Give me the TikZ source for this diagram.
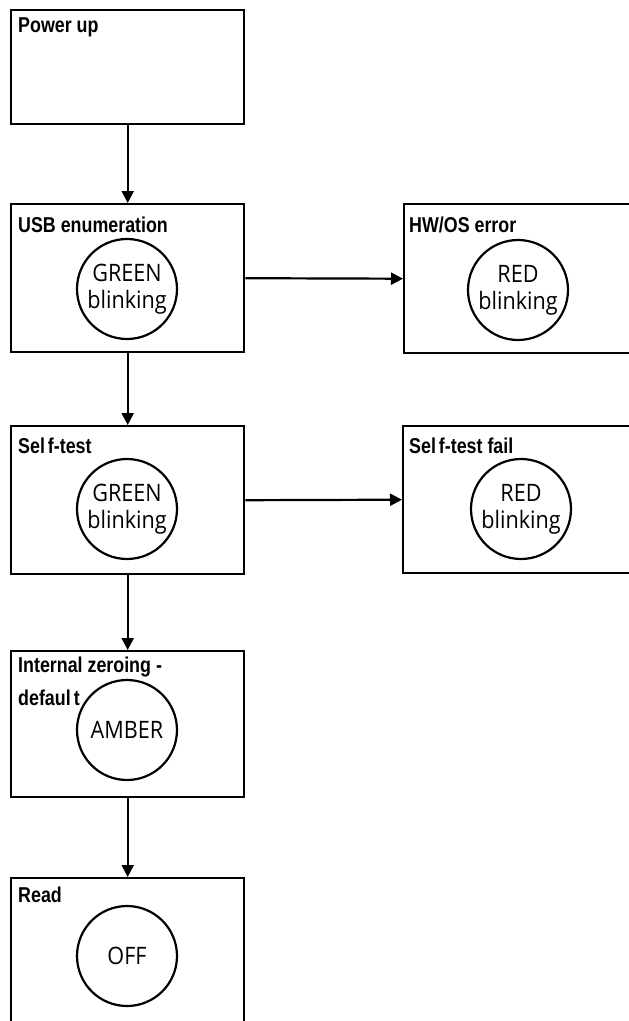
\documentclass[tikz,border=0pt]{standalone}
\usepackage{fontspec}
\usetikzlibrary{arrows.meta}
\newfontfamily\titlefont[FakeStretch=0.83]{Liberation Sans}
\newfontfamily\circfont[FakeStretch=0.9]{Open Sans}
\begin{document}
\begin{tikzpicture}[x=1pt,y=-1pt,
  box/.style={draw=black,line width=2.4pt,rectangle,inner sep=0pt,anchor=north west},
  lamp/.style={draw=black,line width=2.2pt,circle,minimum size=100pt,inner sep=0pt,align=center,
     font=\circfont\fontsize{24}{27}\selectfont},
  title/.style={anchor=base west,inner sep=0pt,font=\titlefont\bfseries\fontsize{21.5}{24}\selectfont},
  arr/.style={draw=black,line width=2.2pt,-{Triangle[length=12pt,width=12pt]}}]
\useasboundingbox (0,0) rectangle (629,1021);
% boxes
\node[box,minimum width=233pt,minimum height=114pt] (power) at (10,9) {};
\node[box,minimum width=233pt,minimum height=148pt] (usb) at (10,203) {};
\node[box,minimum width=233pt,minimum height=148pt] (self) at (10,425) {};
\node[box,minimum width=233pt,minimum height=146pt] (zero) at (10,650) {};
\node[box,minimum width=233pt,minimum height=170pt] (read) at (10,877) {};
\node[box,minimum width=240pt,minimum height=149pt] (hw) at (403,203) {};
\node[box,minimum width=240pt,minimum height=147pt] (fail) at (402,425) {};
% titles
\node[title] (tpower) at (18,32) {Power up};
\node[title] (tusb) at (18,232) {USB enumeration};
\node[title] (tself) at (18,453) {Sel\kern3pt f-test};
\node[title] (tzeroa) at (18,672) {Internal zeroing -};
\node[title] (tzerob) at (18,705) {defaul\kern3pt t};
\node[title] (tread) at (18,902) {Read};
\node[title] (thw) at (409,232) {HW/OS error};
\node[title] (tfail) at (409,453) {Sel\kern3pt f-test fail};
% lamps
\node[lamp] (lusb) at (127,289) {GREEN\\blinking};
\node[lamp] (lhw) at (518,290) {RED\\blinking};
\node[lamp] (lself) at (127,509) {GREEN\\blinking};
\node[lamp] (lfail) at (521,509) {RED\\blinking};
\node[lamp] (lzero) at (127,730) {AMBER};
\node[lamp] (lread) at (127,956) {OFF};
% connectors
\draw[arr] (power.south) -- (usb.north);
\draw[arr] (usb.south) -- (self.north);
\draw[arr] (self.south) -- (zero.north);
\draw[arr] (zero.south) -- (read.north);
\draw[arr] (usb.east) -- (hw.west);
\draw[arr] (self.east) -- (fail.west);
\end{tikzpicture}
\end{document}
